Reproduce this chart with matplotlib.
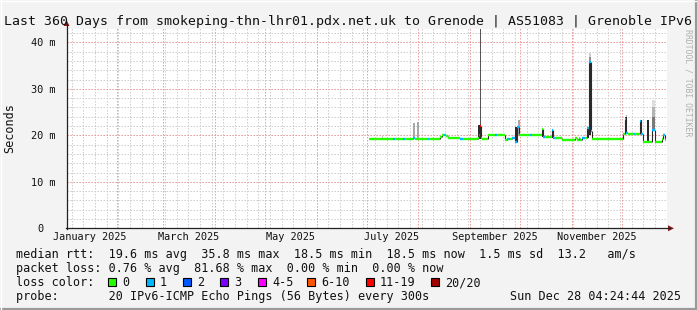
import numpy as np
import pandas as pd
import matplotlib
matplotlib.use('Agg')
import matplotlib.pyplot as plt
import matplotlib.dates as mdates
from matplotlib.lines import Line2D
from matplotlib.patches import Polygon, Rectangle

W, H = 697, 310
end = pd.Timestamp('2025-12-28 04:24:44')
start = end - pd.Timedelta(days=360)

# median rtt steps: day offset from chart start, value in ms, loss class
med_day = [181.2, 195.6, 196.8, 201.6, 202.8, 207.6, 208.8, 216.6, 217.4, 223.8,
           225.0, 226.2, 227.4, 228.6, 235.8, 237.6, 246.6, 247.2, 247.8, 248.4,
           249.0, 252.6, 256.8, 258.0, 262.8, 264.0, 265.8, 267.0, 268.8, 270.0,
           271.2, 271.8, 277.8, 279.0, 285.0, 285.6, 286.8, 291.0, 291.6, 292.8,
           297.0, 305.0, 306.0, 307.0, 308.0, 309.0, 310.8, 312.0, 313.2, 314.4,
           315.0, 333.6, 334.8, 335.4, 336.6, 340.0, 341.0, 343.8, 344.4, 345.6,
           351.0, 352.8, 353.4, 357.0, 357.6, 358.8]
med_ms = [19.3, 19.3, 19.3, 19.3, 19.3, 19.4, 19.3, 19.3, 19.3, 19.7,
          20.0, 20.1, 19.9, 19.4, 19.3, 19.3, 19.5, 20.0, 22.0, 19.4,
          19.3, 20.0, 20.0, 20.0, 19.0, 19.3, 19.3, 19.5, 18.6, 21.7,
          20.0, 20.1, 20.0, 20.0, 21.4, 19.6, 19.6, 21.2, 19.4, 19.4,
          19.1, 19.5, 19.0, 19.5, 19.1, 19.5, 19.5, 21.5, 35.8, 21.0,
          19.3, 20.4, 23.5, 20.6, 20.2, 20.2, 20.2, 23.0, 20.2, 18.5,
          21.1, 18.5, 18.5, 19.3, 20.0, 19.1]
med_loss = [0, 1, 0, 1, 0, 1, 0, 1, 0, 0,
            0, 1, 0, 0, 1, 0, 0, 4, 6, 1,
            0, 0, 1, 0, 0, 1, 0, 1, 1, 1,
            1, 0, 1, 0, 0, 1, 0, 1, 1, 0,
            0, 0, 0, 0, 0, 1, 0, 1, 1, 1,
            0, 0, 1, 1, 0, 1, 0, 1, 1, 0,
            1, 1, 0, 0, 1, 0]
med_stop = 359.4

# smoke: day from, day to, low ms, high ms, shade
smoke_from = [189.0, 207.6, 210.0, 246.6, 247.8, 268.8, 270.6, 285.0, 291.0, 312.0,
              313.2, 313.2, 313.2, 334.8, 335.4, 343.8, 348.0, 351.0, 351.0, 351.0, 357.6]
smoke_to = [189.6, 208.8, 211.2, 248.4, 248.4, 270.6, 271.8, 285.6, 291.6, 313.2,
            314.4, 314.4, 314.4, 336.0, 336.0, 345.0, 349.2, 352.8, 352.8, 352.8, 358.2]
smoke_lo = [19.3, 19.5, 19.5, 19.3, 22.2, 18.6, 20.0, 19.6, 19.4, 19.5,
            20.0, 35.8, 36.8, 20.4, 23.9, 20.2, 18.6, 21.1, 24.0, 26.0, 19.3]
smoke_hi = [19.8, 22.6, 22.8, 22.2, 43.0, 21.8, 23.3, 21.5, 21.3, 21.5,
            35.8, 36.8, 37.8, 23.9, 24.4, 23.3, 23.3, 24.0, 26.0, 27.6, 20.2]
smoke_col = ['#c8c8c8', '#a8a8a8', '#a8a8a8', '#2a2a2a', '#555555', '#2a2a2a', '#a8a8a8',
             '#2a2a2a', '#2a2a2a', '#2a2a2a', '#2a2a2a', '#909090', '#cfcfcf', '#2a2a2a',
             '#b0b0b0', '#2a2a2a', '#2a2a2a', '#7a7a7a', '#b4b4b4', '#dedede', '#2a2a2a']

loss_labels = ['0', '1', '2', '3', '4-5', '6-10', '11-19', '20/20']
loss_colors = ['#26ff00', '#00b8ff', '#0059ff', '#7e00ff', '#ff00ff', '#ff5500', '#ff0000', '#a10000']
# loss class 6 in med_loss means 11-19
loss_box_x = [108, 146, 183, 220, 258, 307, 366, 431]

ytick_vals = [0, 10, 20, 30, 40]
ymax = 43.0

title = "Last 360 Days from smokeping-thn-lhr01.pdx.net.uk to Grenode | AS51083 | Grenoble IPv6"
legend_lines = [
    "median rtt:  19.6 ms avg  35.8 ms max  18.5 ms min  18.5 ms now  1.5 ms sd  13.2   am/s",
    "packet loss: 0.76 % avg  81.68 % max  0.00 % min  0.00 % now",
    "loss color:",
    "probe:       20 IPv6-ICMP Echo Pings (56 Bytes) every 300s",
]
stamp = "Sun Dec 28 04:24:44 2025"

MONO = 'DejaVu Sans Mono'


def fx(px):
    return px / W


def fy(py):
    return 1 - py / H


fig = plt.figure(figsize=(W / 100, H / 100), dpi=100, facecolor='#f3f3f3')
L, R, T, B = 67, 667, 28.5, 228.3
ax = fig.add_axes([fx(L), fy(B), (R - L) / W, (B - T) / H])
ax.set_facecolor('white')
for s in ax.spines.values():
    s.set_visible(False)

t0 = mdates.date2num(start)
t1 = mdates.date2num(end)
ax.set_xlim(t0, t1)
ax.set_ylim(0, ymax)

# grid
grid_lw = 0.72
d0, d1 = start.to_pydatetime(), end.to_pydatetime()
weeks = mdates.WeekdayLocator(byweekday=mdates.SU).tick_values(d0, d1)
months = mdates.MonthLocator().tick_values(d0, d1)
weeks = [w for w in weeks if t0 < w < t1]
months = [m for m in months if t0 < m < t1]
ax.vlines(weeks, 0, ymax, colors='#cfcfcf', linestyles=(0, (1.5, 1.5)), lw=grid_lw, zorder=1)
ax.vlines(months, 0, ymax, colors='#f0a0a0', linestyles=(0, (1.5, 1.5)), lw=grid_lw, zorder=1.1)
ax.hlines(np.arange(2, ymax, 2), t0, t1, colors='#cfcfcf', linestyles=(0, (1.5, 1.5)), lw=grid_lw, zorder=1)
ax.hlines(ytick_vals[1:], t0, t1, colors='#f0a0a0', linestyles=(0, (1.5, 1.5)), lw=grid_lw, zorder=1.1)

# smoke
sx0 = t0 + np.array(smoke_from)
sx1 = t0 + np.array(smoke_to)
ax.bar(sx0, np.array(smoke_hi) - np.array(smoke_lo), width=sx1 - sx0, bottom=smoke_lo,
       align='edge', color=smoke_col, linewidth=0, zorder=2)

# median
mx0 = t0 + np.array(med_day)
mx1 = np.append(mx0[1:], t0 + med_stop)
mcol = [loss_colors[c] for c in med_loss]
ax.vlines(mx0[1:], np.minimum(med_ms[:-1], med_ms[1:]), np.maximum(med_ms[:-1], med_ms[1:]),
          colors='#2a2a2a', lw=0.8, zorder=3)
ax.hlines(med_ms, mx0, mx1, colors=mcol, lw=1.7, zorder=4)

# ticks
ax.xaxis.set_major_locator(mdates.MonthLocator(bymonth=[1, 3, 5, 7, 9, 11], bymonthday=16))
ax.xaxis.set_major_formatter(mdates.DateFormatter('%B %Y'))
ax.set_yticks(ytick_vals)
ax.set_yticklabels(['0  '] + ['%d m' % v for v in ytick_vals[1:]])
ax.tick_params(axis='x', length=0, pad=2.5, labelsize=7.4, labelcolor='#111111')
ax.tick_params(axis='y', length=0, pad=8, labelsize=7.4, labelcolor='#111111')
for lab in ax.get_xticklabels() + ax.get_yticklabels():
    lab.set_family(MONO)

# axes with arrows
fig.add_artist(Line2D([fx(L - 1), fx(670)], [fy(B), fy(B)], color='#222222', lw=0.9))
fig.add_artist(Line2D([fx(L - 0.5), fx(L - 0.5)], [fy(B + 1), fy(24)], color='#222222', lw=0.9))
fig.add_artist(Polygon([[fx(668), fy(B - 3)], [fx(668), fy(B + 3)], [fx(674), fy(B)]],
                       closed=True, color='#8b1a1a', lw=0))
fig.add_artist(Polygon([[fx(L - 3.5), fy(26)], [fx(L + 2.5), fy(26)], [fx(L - 0.5), fy(20)]],
                       closed=True, color='#8b1a1a', lw=0))

# texts
fig.text(fx(347.5), fy(24.5), title, family=MONO, fontsize=9.55, ha='center', va='baseline', color='#111111')
fig.text(fx(10), fy((T + B) / 2), 'Seconds', family=MONO, fontsize=8.5, rotation=90,
         ha='center', va='center', color='#111111')
fig.text(fx(688), fy(29), 'RRDTOOL / TOBI OETIKER', family=MONO, fontsize=5.9, rotation=-90,
         ha='center', va='top', color='#b0b0b0')
for i, line in enumerate(legend_lines):
    fig.text(fx(16), fy(258 + 14 * i), line, family=MONO, fontsize=8.5, ha='left', va='baseline',
             color='#111111')
fig.text(fx(681), fy(300), stamp, family=MONO, fontsize=8.5, ha='right', va='baseline', color='#111111')
for bx, lab, col in zip(loss_box_x, loss_labels, loss_colors):
    fig.add_artist(Rectangle((fx(bx), fy(286)), 8 / W, 8 / H, facecolor=col, edgecolor='black', lw=0.8))
    fig.text(fx(bx + 14), fy(286), lab, family=MONO, fontsize=8.5, ha='left', va='baseline', color='#111111')

# frame shading
fig.add_artist(Line2D([0, 1], [fy(308.8), fy(308.8)], color='#9a9a9a', lw=1.6))
fig.add_artist(Line2D([fx(695.8), fx(695.8)], [0, 1], color='#9a9a9a', lw=1.6))
fig.add_artist(Line2D([0, 1], [fy(0.5), fy(0.5)], color='#ffffff', lw=1))
fig.add_artist(Line2D([fx(0.5), fx(0.5)], [0, 1], color='#ffffff', lw=1))

fig.savefig('out.png', dpi=100, facecolor=fig.get_facecolor())
